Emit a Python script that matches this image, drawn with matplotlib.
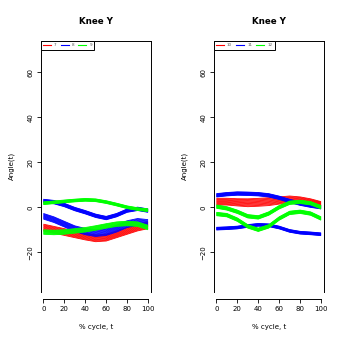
import numpy as np
import matplotlib
matplotlib.use("Agg")
import matplotlib.pyplot as plt

# percent of gait cycle where band values were read
t = [0, 10, 20, 30, 40, 50, 60, 70, 80, 90, 100]

# left panel: subjects 7, 8, 9 (band centre + band width)
s7 = [-9.0, -10.0, -11.0, -12.0, -13.0, -13.8, -13.5, -12.0, -10.5, -9.0, -8.0]
s7_w = [3.0, 3.0, 3.0, 3.0, 3.0, 3.0, 3.0, 3.0, 3.0, 3.0, 3.0]
s8a = [2.8, 2.3, 1.0, -0.8, -2.2, -3.8, -4.8, -3.5, -1.5, -0.7, -1.5]
s8a_w = [1.5, 1.5, 1.5, 1.5, 1.5, 1.5, 1.5, 1.5, 1.5, 1.5, 1.5]
s8b = [-4.0, -5.5, -7.5, -9.5, -10.8, -11.5, -11.0, -9.5, -7.5, -6.5, -7.0]
s8b_w = [2.5, 2.5, 2.5, 2.5, 2.8, 3.0, 3.0, 3.0, 3.0, 3.0, 3.0]
s9a = [1.8, 2.2, 2.6, 3.0, 3.3, 3.1, 2.3, 1.2, 0.0, -0.8, -1.3]
s9a_w = [1.2, 1.2, 1.2, 1.2, 1.2, 1.2, 1.2, 1.2, 1.2, 1.2, 1.2]
s9b = [-11.0, -11.2, -11.0, -10.5, -10.0, -9.2, -8.3, -7.5, -7.2, -7.5, -9.0]
s9b_w = [2.0, 2.0, 2.0, 2.0, 2.0, 2.0, 2.0, 2.0, 2.0, 2.0, 2.0]

# right panel: subjects 10, 11, 12
s10 = [2.5, 2.5, 2.2, 2.0, 2.2, 2.5, 3.0, 3.5, 3.2, 2.5, 1.5]
s10_w = [3.0, 3.0, 3.2, 3.5, 3.5, 3.5, 3.2, 3.0, 2.8, 2.5, 2.0]
s11a = [5.3, 5.8, 6.1, 6.0, 5.8, 5.3, 4.2, 2.8, 1.6, 0.7, 0.0]
s11a_w = [1.5, 1.5, 1.5, 1.5, 1.5, 1.5, 1.5, 1.5, 1.5, 1.5, 1.5]
s11b = [-9.5, -9.3, -9.0, -8.3, -7.8, -8.0, -9.0, -10.5, -11.3, -11.6, -12.0]
s11b_w = [1.2, 1.2, 1.2, 1.2, 1.2, 1.2, 1.2, 1.2, 1.2, 1.2, 1.2]
s12a = [0.3, -0.5, -2.0, -4.0, -4.5, -2.8, 0.0, 2.0, 2.4, 1.8, 0.0]
s12a_w = [1.5, 1.5, 1.5, 1.5, 1.5, 1.5, 1.5, 1.5, 1.5, 1.5, 1.5]
s12b = [-3.0, -3.5, -5.5, -8.5, -10.0, -8.5, -5.0, -2.5, -2.0, -2.8, -5.0]
s12b_w = [1.5, 1.5, 1.5, 1.5, 1.5, 1.5, 1.5, 1.5, 1.5, 1.5, 1.5]

# position of each repetition inside its band
reps = [-0.5, -0.4, -0.3, -0.2, -0.1, 0.0, 0.1, 0.2, 0.3, 0.4, 0.5]

RED, BLUE, GREEN = "#FF0000", "#0000FF", "#00FF00"


def draw_band(ax, centre, width, color):
    c = np.array(centre)
    w = np.array(width)
    for r in reps:
        ax.plot(t, c + r * w, color=color, lw=0.6, solid_capstyle="butt")


def setup(ax, labels):
    ax.set_xlim(-2.6, 102.8)
    ax.set_ylim(-37.5, 74)
    ax.set_xticks([0, 20, 40, 60, 80, 100])
    ax.set_yticks([-20, 0, 20, 40, 60])
    ax.tick_params(labelsize=5, length=3, width=0.6, pad=2)
    for lab in ax.get_yticklabels():
        lab.set_rotation(90)
        lab.set_va("center")
    for s in ["left", "top", "right"]:
        ax.spines[s].set_linewidth(0.7)
    ax.spines["bottom"].set_position(("outward", 5))
    ax.spines["bottom"].set_bounds(0, 100)
    ax.spines["bottom"].set_linewidth(0.7)
    ax.set_title("Knee Y", fontsize=6.3, fontweight="bold", pad=12)
    ax.set_xlabel("% cycle, t", fontsize=5, labelpad=9)
    ax.set_ylabel("Angle(t)", fontsize=5, labelpad=9)
    handles = [plt.Line2D([], [], color=c, lw=0.8) for c in (RED, BLUE, GREEN)]
    leg = ax.legend(handles, labels, loc="upper left", bbox_to_anchor=(0, 1),
                    borderaxespad=0, ncol=3, fontsize=3, handlelength=1.9,
                    handletextpad=0.7, columnspacing=1.0, fancybox=False,
                    framealpha=1, edgecolor="black", borderpad=0.6)
    leg.get_frame().set_linewidth(0.7)
    for txt in leg.get_texts():
        txt.set_color("#555555")


fig = plt.figure(figsize=(3.46, 3.46), dpi=100)
ax1 = fig.add_axes([0.1176, 0.157, 0.3188, 0.7254])
ax2 = fig.add_axes([0.6176, 0.157, 0.3188, 0.7254])

draw_band(ax1, s7, s7_w, RED)
draw_band(ax1, s8a, s8a_w, BLUE)
draw_band(ax1, s8b, s8b_w, BLUE)
draw_band(ax1, s9a, s9a_w, GREEN)
draw_band(ax1, s9b, s9b_w, GREEN)
setup(ax1, ["7", "8", "9"])

draw_band(ax2, s10, s10_w, RED)
draw_band(ax2, s11a, s11a_w, BLUE)
draw_band(ax2, s11b, s11b_w, BLUE)
draw_band(ax2, s12a, s12a_w, GREEN)
draw_band(ax2, s12b, s12b_w, GREEN)
setup(ax2, ["10", "11", "12"])

fig.savefig("out.png", dpi=100)
